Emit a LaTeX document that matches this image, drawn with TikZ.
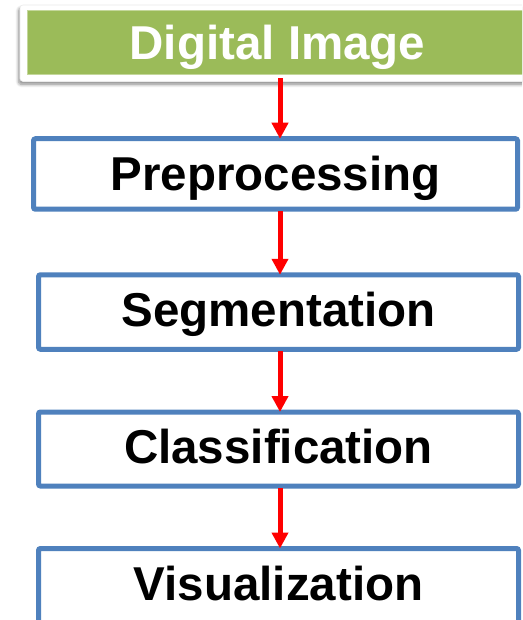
\documentclass[tikz,border=0pt]{standalone}
\usepackage{fontspec}
\setmainfont{Liberation Sans}
\usetikzlibrary{arrows.meta,shadows.blur}
\definecolor{stageblue}{HTML}{4F81BD}
\definecolor{headgreen}{HTML}{9BBB59}
\definecolor{headedge}{HTML}{C4D79B}
\definecolor{flowred}{HTML}{FF0000}

\begin{document}
\begin{tikzpicture}[x=1pt,y=-1pt,
  stagebox/.style={draw=stageblue, line width=5pt, fill=white,
    rounded corners=2pt, inner sep=0pt, outer sep=0pt,
    font=\fontsize{47.5}{50}\selectfont\bfseries,
    text height=34pt, text depth=5pt},
  headbox/.style={fill=headgreen, draw=headedge, line width=1pt,
    inner sep=0pt, outer sep=0pt, text=white,
    font=\fontsize{47.5}{50}\selectfont\bfseries,
    text height=34pt, text depth=0pt},
  headframe/.style={fill=white, draw=black!8, line width=0.6pt,
    rounded corners=3pt, inner sep=0pt, outer sep=0pt,
    blur shadow={shadow xshift=-1.5pt, shadow yshift=-3pt,
      shadow blur radius=3pt, shadow blur steps=8, shadow opacity=45}},
  flow/.style={draw=flowred, line width=5pt,
    -{Triangle[width=16pt,length=16pt]}}
]
\useasboundingbox (0,0) rectangle (522,620);
\clip (0,0) rectangle (522,620);

% header: white framed panel holding the green title bar
\node[headframe, minimum width=515pt, minimum height=76.5pt] (frame) at (277.5,43.25) {};
\node[headbox, minimum width=501pt, minimum height=63.5pt] (img) at (277.5,42.75) {Digital Image};

% processing stages
\node[stagebox, text depth=1pt, minimum width=484pt, minimum height=70.5pt] (pre) at (275.5,174) {Preprocessing};
\node[stagebox, minimum width=480pt, minimum height=74.5pt] (seg) at (278.5,312) {Segmentation};
\node[stagebox, minimum width=480pt, minimum height=74pt] (cls) at (278.5,449) {Classification};
\node[stagebox, minimum width=480pt, minimum height=74pt] (vis) at (278.5,585.5) {Visualization};

% vertical line on which all the arrows run
\coordinate (axis) at (280,0);

\draw[flow] ([yshift=3pt]frame.south -| axis) -- (pre.north -| axis);
\draw[flow] ([yshift=-2pt]pre.south -| axis) -- (seg.north -| axis);
\draw[flow] ([yshift=-2pt]seg.south -| axis) -- (cls.north -| axis);
\draw[flow] ([yshift=-2pt]cls.south -| axis) -- (vis.north -| axis);
\end{tikzpicture}
\end{document}
